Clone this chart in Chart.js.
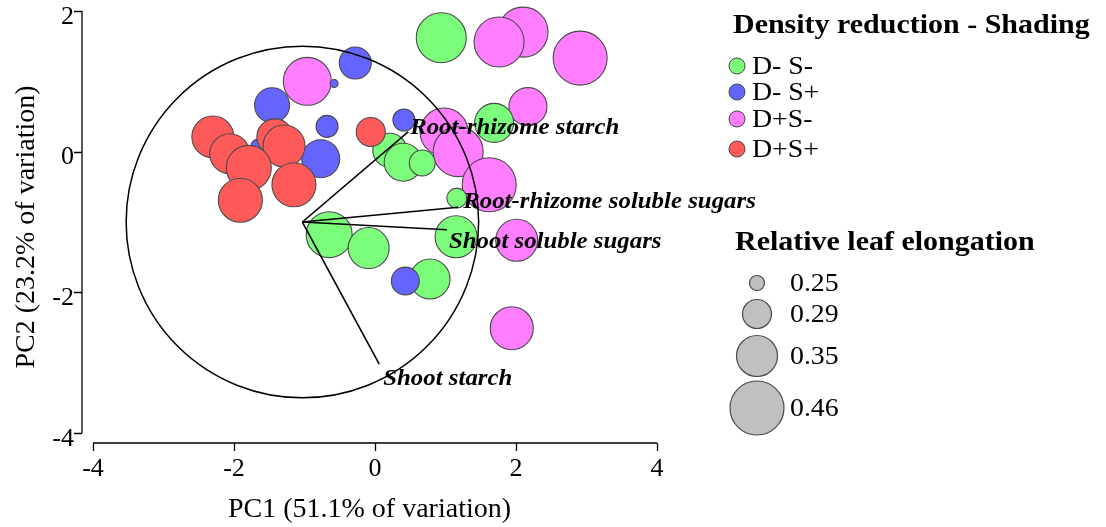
<!DOCTYPE html>
<html>
<head>
<meta charset="utf-8">
<script src="https://cdn.jsdelivr.net/npm/chart.js@4.4.1/dist/chart.umd.min.js"></script>
<style>
	html, body { margin: 0; padding: 0; background: #fff; }
	#wrap { position: relative; width: 1106px; height: 527px; }
</style>
</head>
<body>
<div id="wrap"><canvas id="pca" width="1106" height="527"></canvas></div>
<script>

// treatment groups (density reduction / shading)
const groups = ['D- S-', 'D- S+', 'D+S-', 'D+S+'];

// D- S-
const dmsmPC1 = [0.94, 1.69, 0.21, 0.40, 0.67, 1.16, 1.15, -0.65, -0.09, 0.78];
const dmsmPC2 = [1.62, 0.41, 0.02, -0.15, -0.16, -0.66, -1.21, -1.18, -1.37, -1.81];
const dmsmRLE = [0.426, 0.34, 0.315, 0.335, 0.281, 0.264, 0.358, 0.392, 0.35, 0.345];

// D- S+
const dmspPC1 = [-0.28, -0.58, -1.46, -0.68, -1.67, -0.77, 0.41, 0.43];
const dmspPC2 = [1.26, 0.97, 0.66, 0.36, 0.09, -0.10, 0.45, -1.84];
const dmspRLE = [0.305, 0.23, 0.32, 0.27, 0.241, 0.335, 0.27, 0.287];

// D+S-
const dpsmPC1 = [2.10, 1.76, 2.91, 2.17, -0.96, 0.98, 1.18, 1.62, 2.01, 1.94];
const dpsmPC2 = [1.70, 1.56, 1.33, 0.64, 1.00, 0.28, 0.00, -0.47, -1.26, -2.51];
const dpsmRLE = [0.426, 0.426, 0.46, 0.335, 0.409, 0.409, 0.426, 0.46, 0.358, 0.367];

// D+S+
const dpspPC1 = [-2.30, -2.06, -1.42, -1.29, -1.79, -1.91, -1.15, -0.06];
const dpspPC2 = [0.21, -0.03, 0.21, 0.08, -0.23, -0.69, -0.47, 0.28];
const dpspRLE = [0.358, 0.345, 0.325, 0.358, 0.384, 0.375, 0.375, 0.29];

// variable loadings (arrow tips) and correlation circle
const loadingNames = ['Root-rhizome starch', 'Root-rhizome soluble sugars', 'Shoot soluble sugars', 'Shoot starch'];
const loadingPC1 = [0.47, 1.18, 1.02, 0.06];
const loadingPC2 = [0.28, -0.79, -1.11, -3.02];
const circleCentre = [-1.03, -1.0];
const circleRadius = 2.5;

// axes
const xTicks = [-4, -2, 0, 2, 4];
const yTicks = [-4, -2, 0, 2];
const sizeBreaks = [0.25, 0.29, 0.35, 0.46];


const serif = "'Liberation Serif', 'Times New Roman', serif";
const colors = ['#7bfd7b', '#6464ff', '#ff7dff', '#ff5a5a'];
const edge = '#4a4a4a';
const sizeRadii = [7.5, 14.5, 20.5, 27];


function radiusFor(v) {
	let i = 0;
	while(i < sizeBreaks.length - 2 && v > sizeBreaks[i + 1]) {
		i++;
	}
	const r = sizeRadii[i] + (v - sizeBreaks[i]) * (sizeRadii[i + 1] - sizeRadii[i]) / (sizeBreaks[i + 1] - sizeBreaks[i]);
	return Math.max(r, 3);
}

function points(pc1, pc2, rle) {
	return pc1.map(function(x, i) {
		return {x: x, y: pc2[i], r: radiusFor(rle[i])};
	});
}

function wideText(ctx, text, x, y, sx) {
	ctx.save();
	ctx.translate(x, y);
	ctx.scale(sx, 1);
	ctx.fillText(text, 0, 0);
	ctx.restore();
}


const series = [
	points(dmsmPC1, dmsmPC2, dmsmRLE),
	points(dmspPC1, dmspPC2, dmspRLE),
	points(dpsmPC1, dpsmPC2, dpsmRLE),
	points(dpspPC1, dpspPC2, dpspRLE)
];
const drawOrder = [2, 1, 3, 0]; // lower is drawn on top

const dsets = series.map(function(data, i) {
	return {
		type: 'bubble',
		label: groups[i],
		data: data,
		backgroundColor: colors[i],
		borderColor: edge,
		borderWidth: 1.1,
		order: drawOrder[i],
		clip: false
	};
});

loadingNames.forEach(function(name, i) {
	dsets.push({
		type: 'line',
		label: name,
		data: [{x: circleCentre[0], y: circleCentre[1]}, {x: loadingPC1[i], y: loadingPC2[i]}],
		borderColor: '#000',
		borderWidth: 1.6,
		pointRadius: 0,
		order: -1,
		clip: false
	});
});


const overlay = {
	id: 'overlay',

	afterDatasetsDraw(chart) {
		const ctx = chart.ctx;
		const xs = chart.scales.x;
		const ys = chart.scales.y;
		const area = chart.chartArea;

		ctx.save();
		ctx.strokeStyle = '#000';
		ctx.lineWidth = 1.5;

		// correlation circle
		const cx = xs.getPixelForValue(circleCentre[0]);
		const cy = ys.getPixelForValue(circleCentre[1]);
		const rx = xs.getPixelForValue(circleCentre[0] + circleRadius) - cx;
		const ry = cy - ys.getPixelForValue(circleCentre[1] + circleRadius);
		ctx.beginPath();
		ctx.ellipse(cx, cy, rx, ry, 0, 0, Math.PI * 2);
		ctx.stroke();

		// y axis, detached L style
		ctx.lineWidth = 1.3;
		const ax = area.left;
		ctx.beginPath();
		ctx.moveTo(ax, ys.getPixelForValue(yTicks[yTicks.length - 1]));
		ctx.lineTo(ax, ys.getPixelForValue(yTicks[0]));
		yTicks.forEach(function(v) {
			const p = Math.round(ys.getPixelForValue(v)) + 0.5;
			ctx.moveTo(ax, p);
			ctx.lineTo(ax - 8, p);
		});
		ctx.stroke();

		// x axis
		const ay = area.bottom;
		ctx.beginPath();
		ctx.moveTo(xs.getPixelForValue(xTicks[0]), ay);
		ctx.lineTo(xs.getPixelForValue(xTicks[xTicks.length - 1]), ay);
		xTicks.forEach(function(v) {
			const p = Math.round(xs.getPixelForValue(v)) + 0.5;
			ctx.moveTo(p, ay);
			ctx.lineTo(p, ay + 8);
		});
		ctx.stroke();

		// loading labels
		const offsets = [[2, -4], [5, -5], [2, 12], [4, 15]];
		ctx.fillStyle = '#000';
		ctx.font = 'italic bold 23px ' + serif;
		ctx.textAlign = 'left';
		ctx.textBaseline = 'middle';
		loadingNames.forEach(function(name, i) {
			const px = xs.getPixelForValue(loadingPC1[i]) + offsets[i][0];
			const py = ys.getPixelForValue(loadingPC2[i]) + offsets[i][1];
			wideText(ctx, name, px, py, 1.08);
		});
		ctx.restore();
	},

	afterDraw(chart) {
		const ctx = chart.ctx;
		ctx.save();
		ctx.fillStyle = '#000';
		ctx.textAlign = 'left';
		ctx.textBaseline = 'middle';

		// group legend
		ctx.font = 'bold 27px ' + serif;
		wideText(ctx, 'Density reduction - Shading', 733, 26, 1.11);

		const rows = [66, 92, 119, 149];
		ctx.font = '26px ' + serif;
		groups.forEach(function(g, i) {
			ctx.beginPath();
			ctx.arc(737, rows[i], 8, 0, Math.PI * 2);
			ctx.fillStyle = colors[i];
			ctx.fill();
			ctx.strokeStyle = edge;
			ctx.lineWidth = 1;
			ctx.stroke();
			ctx.fillStyle = '#000';
			wideText(ctx, g, 752, rows[i] + 1, 1.07);
		});

		// size legend
		ctx.font = 'bold 27px ' + serif;
		wideText(ctx, 'Relative leaf elongation', 735, 243, 1.11);

		const sizeRows = [283, 314, 356, 408];
		ctx.font = '26px ' + serif;
		sizeBreaks.forEach(function(v, i) {
			ctx.beginPath();
			ctx.arc(757, sizeRows[i], radiusFor(v), 0, Math.PI * 2);
			ctx.fillStyle = '#c0c0c0';
			ctx.fill();
			ctx.strokeStyle = edge;
			ctx.lineWidth = 1.2;
			ctx.stroke();
			ctx.fillStyle = '#000';
			wideText(ctx, v.toFixed(2), 790, sizeRows[i] + 1, 1.07);
		});
		ctx.restore();
	}
};


new Chart(document.getElementById('pca'), {
	type: 'bubble',
	data: {datasets: dsets},
	plugins: [overlay],
	options: {
		responsive: false,
		animation: false,
		events: [],
		layout: {
			autoPadding: false,
			padding: {left: 0, top: 11, right: 449, bottom: 0}
		},
		plugins: {
			legend: {display: false},
			tooltip: {enabled: false}
		},
		scales: {
			x: {
				type: 'linear',
				min: -4.156,
				max: 4,
				grid: {display: false, drawTicks: false},
				border: {display: false},
				afterBuildTicks: function(scale) {
					scale.ticks = xTicks.map(function(v) { return {value: v}; });
				},
				afterFit: function(scale) {
					scale.height = 84;
					scale.paddingLeft = 0;
					scale.paddingRight = 0;
				},
				ticks: {
					autoSkip: false,
					maxRotation: 0,
					padding: 11,
					color: '#000',
					font: {family: serif, size: 26},
					callback: function(v) { return String(v); }
				},
				title: {
					display: true,
					text: 'PC1 (51.1% of variation)',
					color: '#000',
					font: {family: serif, size: 28},
					padding: {top: 0, bottom: 1}
				}
			},
			y: {
				type: 'linear',
				min: -4.142,
				max: 2,
				grid: {display: false, drawTicks: false},
				border: {display: false},
				afterBuildTicks: function(scale) {
					scale.ticks = yTicks.map(function(v) { return {value: v}; });
				},
				afterFit: function(scale) {
					scale.width = 82;
					scale.paddingTop = 0;
					scale.paddingBottom = 0;
				},
				ticks: {
					autoSkip: false,
					padding: 8,
					labelOffset: 6,
					color: '#000',
					font: {family: serif, size: 26},
					callback: function(v) { return String(v); }
				},
				title: {
					display: true,
					text: 'PC2 (23.2% of variation)',
					color: '#000',
					font: {family: serif, size: 28},
					padding: {top: 10, bottom: 0}
				}
			}
		}
	}
});

</script>
</body>
</html>
